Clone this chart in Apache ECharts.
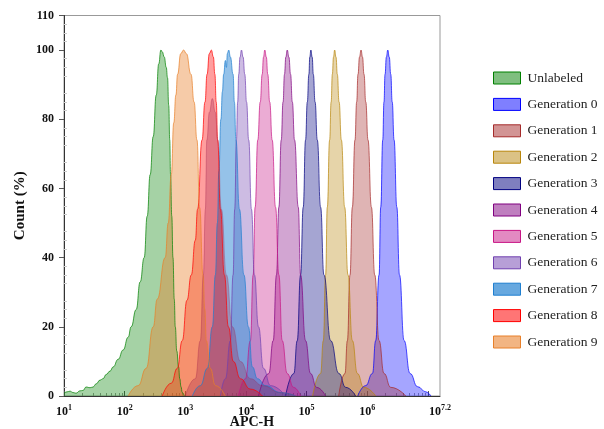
<!DOCTYPE html>
<html><head><meta charset="utf-8">
<script src="https://cdn.jsdelivr.net/npm/echarts@6/dist/echarts.min.js"></script>
<style>html,body{margin:0;padding:0;background:#fff}#c{width:604px;height:429px}</style>
</head><body><div id="c"></div>
<script>
// x values are log10(APC-H), y values are Count (%)
const seriesNames = ['Unlabeled','Generation 0','Generation 1','Generation 2','Generation 3','Generation 4','Generation 5','Generation 6','Generation 7','Generation 8','Generation 9'];
const xTickLabels = [1,2,3,4,5,6,7.2];
const yTickLabels = [0,20,40,60,80,100,110];

const unlabeled = [[1.000,0.8],[1.050,1.2],[1.099,1.4],[1.149,1.0],[1.198,0.8],[1.264,1.5],[1.314,1.6],[1.364,2.6],[1.430,2.4],[1.479,2.6],[1.529,3.5],[1.595,4.6],[1.645,5.0],[1.694,6.2],[1.760,7.2],[1.810,8.4],[1.893,10.6],[1.975,13.3],[2.058,17],[2.107,20],[2.190,25],[2.256,33],[2.322,40],[2.372,52],[2.421,64],[2.471,75],[2.521,87],[2.562,96],[2.598,100],[2.620,99.5],[2.653,98],[2.686,95],[2.707,92],[2.727,84],[2.744,74],[2.757,64],[2.777,52],[2.797,40],[2.818,28],[2.835,20],[2.860,13],[2.889,8.4],[2.909,5],[2.929,2.7],[2.950,1],[2.983,0]];
const gen0 = [[5.843,0],[5.975,3],[6.086,6.5],[6.140,16],[6.195,35],[6.223,54.6],[6.256,74],[6.276,85],[6.294,93],[6.316,98],[6.339,100],[6.363,98],[6.388,93],[6.412,85],[6.443,74],[6.488,54.6],[6.532,35],[6.608,16],[6.707,6.5],[6.830,2.7],[6.967,1.2],[7.050,0]];
const gen1 = [[5.529,0],[5.633,6.5],[5.673,16],[5.716,35],[5.755,54.6],[5.798,74],[5.826,85],[5.848,93],[5.873,98],[5.898,100],[5.922,98],[5.947,93],[5.976,85],[6.013,74],[6.069,54.6],[6.124,35],[6.195,16],[6.278,6.5],[6.388,2.5],[6.636,0]];
const gen2 = [[5.099,0],[5.231,6.5],[5.276,16],[5.314,35],[5.342,54.6],[5.380,74],[5.405,85],[5.425,93],[5.444,98],[5.463,100],[5.485,98],[5.507,93],[5.536,85],[5.574,74],[5.628,54.6],[5.683,35],[5.755,16],[5.838,6.5],[5.942,2.5],[6.140,0]];
const gen3 = [[4.653,0],[4.790,6.5],[4.846,16],[4.901,35],[4.945,54.6],[4.983,74],[5.012,85],[5.038,93],[5.053,98],[5.071,100],[5.092,98],[5.111,93],[5.140,85],[5.177,74],[5.231,54.6],[5.286,35],[5.397,16],[5.534,6.5],[5.645,2.5],[5.810,0]];
const gen4 = [[4.207,0],[4.377,6.5],[4.450,16],[4.504,35],[4.543,54.6],[4.582,74],[4.612,85],[4.636,93],[4.658,98],[4.681,100],[4.708,98],[4.736,93],[4.765,85],[4.802,74],[4.863,54.6],[4.901,35],[4.983,16],[5.066,6.5],[5.165,2.5],[5.314,0]];
const gen5 = [[3.876,0],[3.992,5],[4.074,16],[4.119,35],[4.152,54.6],[4.195,74],[4.236,85],[4.268,93],[4.290,98],[4.311,100],[4.336,98],[4.360,93],[4.392,85],[4.433,74],[4.488,54.6],[4.543,35],[4.598,16],[4.681,6.5],[4.785,2.5],[4.901,0]];
const gen6 = [[3.579,0],[3.661,5],[3.744,16],[3.788,35],[3.815,54],[3.843,74],[3.864,85],[3.881,93],[3.903,98],[3.926,100],[3.953,98],[3.981,93],[4.010,85],[4.046,74],[4.091,54],[4.140,35],[4.207,20],[4.289,8],[4.405,3],[4.653,0]];
const gen7 = [[3.116,0],[3.248,3],[3.364,8],[3.446,20],[3.496,35],[3.529,50],[3.554,65],[3.587,80],[3.612,88],[3.633,93],[3.661,97],[3.678,95],[3.694,99],[3.716,100],[3.744,98],[3.788,93],[3.810,85],[3.835,74],[3.893,54],[3.967,35],[4.041,20],[4.107,8.4],[4.190,5],[4.322,3],[4.570,1],[4.818,0]];
const gen8 = [[2.620,0],[2.769,3.7],[2.868,8],[2.950,16],[3.028,27.7],[3.099,35],[3.165,45],[3.203,54],[3.276,74],[3.325,85],[3.359,93],[3.397,99],[3.430,100],[3.463,98],[3.488,93],[3.510,85],[3.534,74],[3.579,54],[3.645,35],[3.711,20],[3.793,10],[3.909,5],[4.074,2],[4.273,0]];
const gen9 = [[2.058,0],[2.223,3],[2.355,8],[2.471,20],[2.537,28],[2.669,40],[2.719,50],[2.769,64],[2.810,79],[2.845,87],[2.873,93],[2.926,99],[2.972,100],[3.017,99],[3.094,93],[3.145,85],[3.193,74],[3.236,54.5],[3.293,35],[3.322,25],[3.347,16],[3.413,8],[3.496,3],[3.661,0]];
// darker sub-population visible under Generation 8 (no legend entry)
const gen8Overlap = [[3.000,0],[3.165,5],[3.248,16],[3.298,35],[3.331,54],[3.355,74],[3.397,82],[3.446,86],[3.496,82],[3.537,74],[3.595,54],[3.678,35],[3.777,20],[3.909,10],[4.074,5],[4.273,3],[4.570,1],[4.818,0]];

const seriesData = [unlabeled,gen0,gen1,gen2,gen3,gen4,gen5,gen6,gen7,gen8,gen9];
const baseColors = ['#008000','#0000ff','#a52a2a','#b8860b','#000080','#800080','#c71585','#7040b0','#1f7fd0','#ff0000','#e8802a'];
const alphas = [0.5,0.5,0.5,0.5,0.5,0.5,0.5,0.5,0.68,0.54,0.58];

function rgba(hex,a){const n=parseInt(hex.slice(1),16);return 'rgba('+((n>>16)&255)+','+((n>>8)&255)+','+(n&255)+','+a+')';}

const minorX = [];
for (let n=1;n<=7;n++){for(let k=2;k<=9;k++){const v=n+Math.log10(k); if(v<7.2) minorX.push(+v.toFixed(4));}}

const serif = '"Liberation Serif","Times New Roman",serif';
const series = seriesData.map((d,i)=>({
  name: seriesNames[i], type:'line', data:d, smooth:0.5, smoothMonotone:'x',
  symbol:'none', showSymbol:false, xAxisIndex:0, yAxisIndex:0,
  lineStyle:{color:baseColors[i], width:1, opacity:0.7},
  itemStyle:{color:rgba(baseColors[i],alphas[i])},
  areaStyle:{color:rgba(baseColors[i],alphas[i])}
}));
series.push({
  name:'sub', type:'line', data:gen8Overlap, smooth:0.5, smoothMonotone:'x', symbol:'none', showSymbol:false,
  lineStyle:{color:'#a0204a', width:0.8, opacity:0.4},
  itemStyle:{color:'rgba(160,32,74,0.42)'},
  areaStyle:{color:'rgba(160,32,74,0.42)'}
});

const chart = echarts.init(document.getElementById('c'), null, {renderer:'canvas'});
chart.setOption({
  animation:false,
  backgroundColor:'#fff',
  grid:{left:64, right:164, top:15.5, bottom:33, outerBoundsMode:'none', containLabel:false, show:true, borderColor:'#999', borderWidth:1},
  legend:{
    orient:'vertical', left:493, top:71, padding:0, itemWidth:27, itemHeight:12, itemGap:12.4, icon:'rect',
    textStyle:{fontFamily:serif, fontSize:13.5, color:'#222', lineHeight:14, padding:[0,0,0,2]},
    data: seriesNames.map((n,i)=>({name:n, itemStyle:{color:rgba(baseColors[i],alphas[i]), borderColor:baseColors[i], borderWidth:1, opacity:1}}))
  },
  xAxis:[{
    type:'value', min:1, max:7.2, interval:1, position:'bottom',
    name:'APC-H', nameLocation:'middle', nameGap:19, nameMoveOverlap:false,
    nameTextStyle:{fontFamily:serif, fontWeight:'bold', fontSize:14, color:'#111'},
    axisLine:{show:true, lineStyle:{color:'#333', width:1}},
    axisTick:{show:true, inside:true, length:5, customValues:[1,2,3,4,5,6,7], lineStyle:{color:'#555'}},
    axisLabel:{show:true, margin:8, customValues:xTickLabels,
      formatter:v=>'{b|10}{s|'+(Math.round(v*10)/10)+'}',
      rich:{b:{fontFamily:serif, fontWeight:'bold', fontSize:12, color:'#111', lineHeight:14, verticalAlign:'bottom'},
            s:{fontFamily:serif, fontWeight:'bold', fontSize:8, color:'#111', lineHeight:8, verticalAlign:'top'}}},
    splitLine:{show:false}
  },{
    type:'value', min:1, max:7.2, position:'bottom', gridIndex:0,
    axisLine:{show:false}, axisLabel:{show:false}, splitLine:{show:false},
    axisTick:{show:true, inside:true, length:3, customValues:minorX, lineStyle:{color:'#999'}}
  }],
  yAxis:[{
    type:'value', min:0, max:110, interval:10, position:'left',
    name:'Count (%)', nameLocation:'middle', nameGap:36, nameRotate:90, nameMoveOverlap:false,
    nameTextStyle:{fontFamily:serif, fontWeight:'bold', fontSize:15, color:'#111'},
    axisLine:{show:true, lineStyle:{color:'#333', width:1}},
    axisTick:{show:true, inside:false, length:5, customValues:yTickLabels, lineStyle:{color:'#555'}},
    axisLabel:{show:true, margin:10, customValues:yTickLabels, fontFamily:serif, fontWeight:'bold', fontSize:12, color:'#111'},
    splitLine:{show:false}
  },{
    type:'value', min:0, max:110, interval:10, position:'left', gridIndex:0,
    axisLine:{show:false}, axisLabel:{show:false}, splitLine:{show:false},
    axisTick:{show:false, inside:true},
    minorTick:{show:true, splitNumber:4, length:3, lineStyle:{color:'#ccc'}}
  }],
  series: series
});
</script>
</body></html>
